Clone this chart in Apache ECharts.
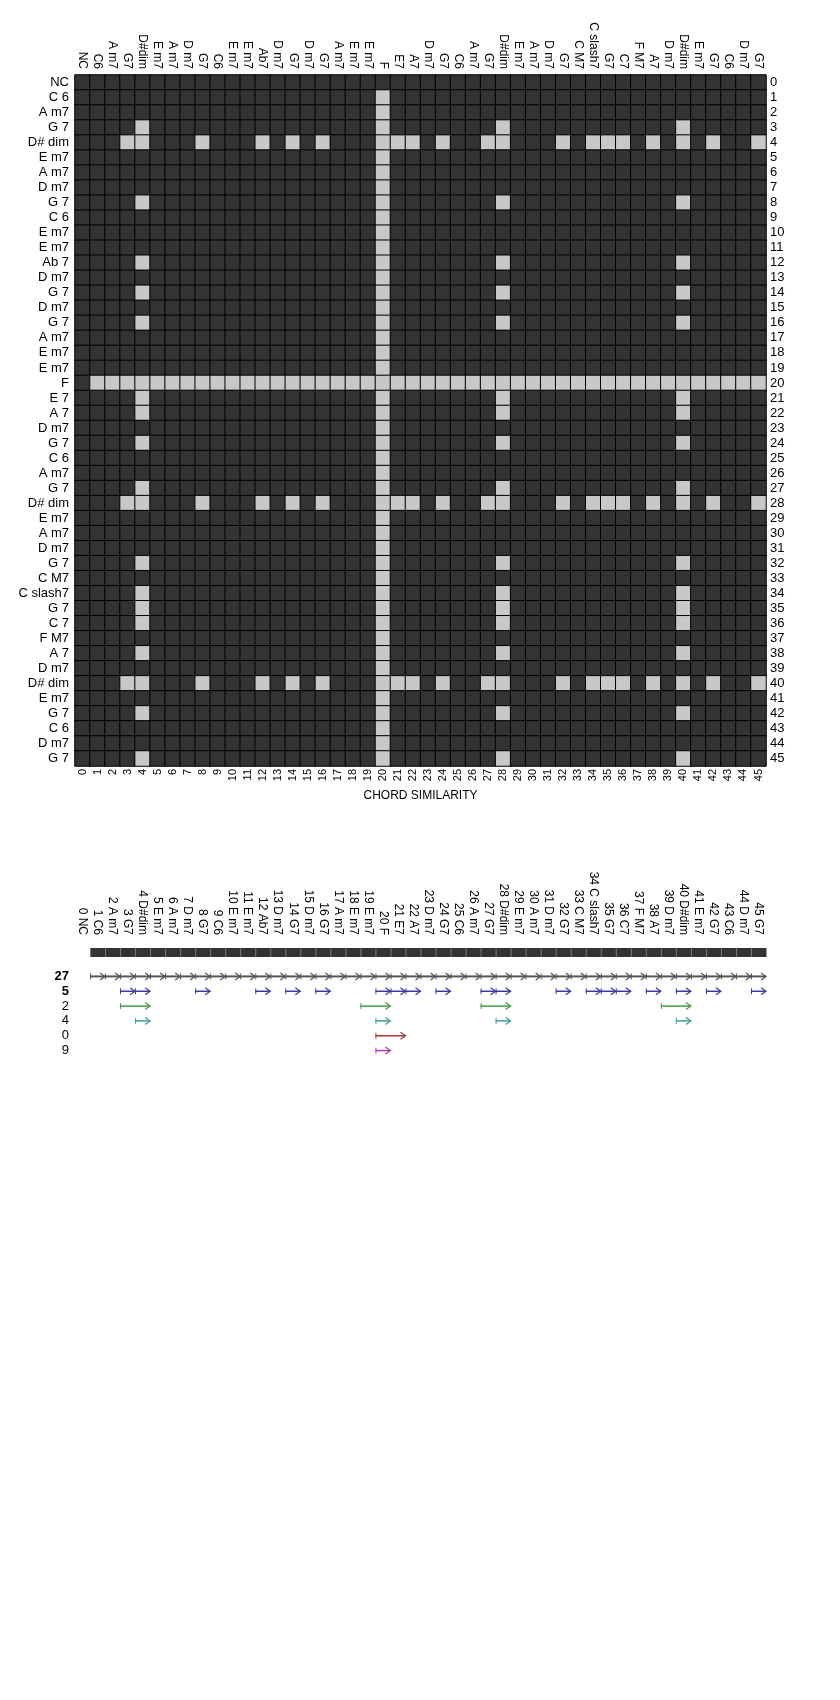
<!DOCTYPE html>
<html><head><meta charset="utf-8">
<script src="https://cdn.jsdelivr.net/npm/echarts@6/dist/echarts.min.js"></script>
<style>html,body{margin:0;padding:0;background:#fff}#c{width:840px;height:1700px}</style>
</head><body><div id="c"></div>
<script>
// ---- Data ----
const rowLabels = ['NC','C 6','A m7','G 7','D# dim','E m7','A m7','D m7','G 7','C 6','E m7','E m7','Ab 7','D m7','G 7','D m7','G 7','A m7','E m7','E m7','F','E 7','A 7','D m7','G 7','C 6','A m7','G 7','D# dim','E m7','A m7','D m7','G 7','C M7','C slash7','G 7','C 7','F M7','A 7','D m7','D# dim','E m7','G 7','C 6','D m7','G 7'];
const colLabels = ['NC','C6','A m7','G7','D#dim','E m7','A m7','D m7','G7','C6','E m7','E m7','Ab7','D m7','G7','D m7','G7','A m7','E m7','E m7','F','E7','A7','D m7','G7','C6','A m7','G7','D#dim','E m7','A m7','D m7','G7','C M7','C slash7','G7','C7','F M7','A7','D m7','D#dim','E m7','G7','C6','D m7','G7'];
const indexLabels = ['0','1','2','3','4','5','6','7','8','9','10','11','12','13','14','15','16','17','18','19','20','21','22','23','24','25','26','27','28','29','30','31','32','33','34','35','36','37','38','39','40','41','42','43','44','45'];
// light (similar) cells per row of the similarity matrix
const litCols = [
  [],
  [20],
  [20],
  [4,20,28,40],
  [3,4,8,12,14,16,20,21,22,24,27,28,32,34,35,36,38,40,42,45],
  [20],
  [20],
  [20],
  [4,20,28,40],
  [20],
  [20],
  [20],
  [4,20,28,40],
  [20],
  [4,20,28,40],
  [20],
  [4,20,28,40],
  [20],
  [20],
  [20],
  [1,2,3,4,5,6,7,8,9,10,11,12,13,14,15,16,17,18,19,20,21,22,23,24,25,26,27,28,29,30,31,32,33,34,35,36,37,38,39,40,41,42,43,44,45],
  [4,20,28,40],
  [4,20,28,40],
  [20],
  [4,20,28,40],
  [20],
  [20],
  [4,20,28,40],
  [3,4,8,12,14,16,20,21,22,24,27,28,32,34,35,36,38,40,42,45],
  [20],
  [20],
  [20],
  [4,20,28,40],
  [20],
  [4,20,28,40],
  [4,20,28,40],
  [4,20,28,40],
  [20],
  [4,20,28,40],
  [20],
  [3,4,8,12,14,16,20,21,22,24,27,28,32,34,35,36,38,40,42,45],
  [20],
  [4,20,28,40],
  [20],
  [20],
  [4,20,28,40]
];
// segment bar columns
const barCols = [1,2,3,4,5,6,7,8,9,10,11,12,13,14,15,16,17,18,19,20,21,22,23,24,25,26,27,28,29,30,31,32,33,34,35,36,37,38,39,40,41,42,43,44,45];
// arrow rows: [startCol, endCol]
const arcLabels = ['27','5','2','4','0','9'];
const arcs27 = [[1,1],[2,2],[3,3],[4,4],[5,5],[6,6],[7,7],[8,8],[9,9],[10,10],[11,11],[12,12],[13,13],[14,14],[15,15],[16,16],[17,17],[18,18],[19,19],[20,20],[21,21],[22,22],[23,23],[24,24],[25,25],[26,26],[27,27],[28,28],[29,29],[30,30],[31,31],[32,32],[33,33],[34,34],[35,35],[36,36],[37,37],[38,38],[39,39],[40,40],[41,41],[42,42],[43,43],[44,44],[45,45]];
const arcs5 = [[3,3],[4,4],[8,8],[12,12],[14,14],[16,16],[20,20],[21,21],[22,22],[24,24],[27,27],[28,28],[32,32],[34,34],[35,35],[36,36],[38,38],[40,40],[42,42],[45,45]];
const arcs2 = [[3,4],[19,20],[27,28],[39,40]];
const arcs4 = [[4,4],[20,20],[28,28],[40,40]];
const arcs0 = [[20,21]];
const arcs9 = [[20,20]];

// ---- Build ----
const heatData = [];
for (let i = 0; i < rowLabels.length; i++) {
  for (let j = 0; j < colLabels.length; j++) {
    heatData.push([j, i, litCols[i].indexOf(j) >= 0 ? 1 : 0]);
  }
}
const FONT = "'Liberation Sans', Arial, sans-serif";
const L = 75, W = 691;

function arrowSeries(list, row, color, lw) {
  return {
    type: 'custom', xAxisIndex: 3, yAxisIndex: 4,
    data: list.map(p => [p[0], p[1], row]),
    encode: { x: [0, 1], y: 2 },
    renderItem: function (params, api) {
      const a = api.coord([api.value(0), api.value(2)]);
      const b = api.coord([api.value(1), api.value(2)]);
      const bw = api.size([1, 0])[0];
      const x0 = a[0] - bw / 2, x1 = b[0] + bw / 2, y = a[1];
      const st = { stroke: color, lineWidth: lw, fill: null };
      return { type: 'group', children: [
        { type: 'line', shape: { x1: x0, y1: y, x2: x1, y2: y }, style: st },
        { type: 'line', shape: { x1: x0 + 0.5, y1: y - 3, x2: x0 + 0.5, y2: y + 3 }, style: { stroke: color, lineWidth: 1 } },
        { type: 'polyline', shape: { points: [[x1 - 5, y - 3.5], [x1, y], [x1 - 5, y + 3.5]] }, style: { stroke: color, lineWidth: 1.2, fill: null } }
      ]};
    }
  };
}

const chart = echarts.init(document.getElementById('c'), null, { renderer: 'canvas' });
const noLine = { show: false };
chart.setOption({
  backgroundColor: '#ffffff',
  animation: false,
  textStyle: { fontFamily: FONT },
  grid: [
    { left: L, top: 75, width: W, height: W },
    { left: L, top: 948, width: W, height: 9 },
    { left: L, top: 969, width: W, height: 89 }
  ],
  xAxis: [
    { type: 'category', gridIndex: 0, position: 'top', data: colLabels,
      axisLine: noLine, axisTick: noLine, splitLine: noLine,
      axisLabel: { interval: 0, rotate: 90, margin: 6, fontSize: 12, color: '#000', fontFamily: FONT } },
    { type: 'category', gridIndex: 0, position: 'bottom', data: indexLabels,
      axisLine: noLine, axisTick: noLine, splitLine: noLine,
      name: 'CHORD SIMILARITY', nameLocation: 'middle', nameGap: 24,
      nameTextStyle: { fontSize: 12, color: '#000', fontFamily: FONT },
      axisLabel: { interval: 0, rotate: 90, margin: 3, fontSize: 11, color: '#000', fontFamily: "'Liberation Sans Narrow', 'Liberation Sans', Arial, sans-serif" } },
    { type: 'category', gridIndex: 1, position: 'top', data: colLabels,
      axisLine: noLine, axisTick: noLine, splitLine: noLine,
      axisLabel: { interval: 0, rotate: 90, margin: 13, fontSize: 12, color: '#000', fontFamily: FONT,
        formatter: function (v, i) { return i + ' ' + v; } } },
    { type: 'category', gridIndex: 2, data: colLabels, show: false }
  ],
  yAxis: [
    { type: 'category', gridIndex: 0, inverse: true, data: rowLabels, position: 'left',
      axisLine: noLine, axisTick: noLine, splitLine: noLine,
      axisLabel: { interval: 0, margin: 6, fontSize: 13, color: '#000', fontFamily: FONT } },
    { type: 'category', gridIndex: 0, inverse: true, data: indexLabels, position: 'right',
      axisLine: noLine, axisTick: noLine, splitLine: noLine,
      axisLabel: { interval: 0, margin: 4, fontSize: 13, color: '#000', fontFamily: FONT } },
    { type: 'category', gridIndex: 1, data: ['bar'], show: false },
    { type: 'category', gridIndex: 2, data: arcLabels, show: false },
    { type: 'category', gridIndex: 2, inverse: true, data: arcLabels, position: 'left',
      axisLine: noLine, axisTick: noLine, splitLine: noLine,
      axisLabel: { interval: 0, margin: 6, fontSize: 13, color: '#000', fontFamily: FONT,
        formatter: function (v, i) { return i < 2 ? '{b|' + v + '}' : v; },
        rich: { b: { fontWeight: 'bold', fontSize: 13, fontFamily: FONT, color: '#000' } } } }
  ],
  visualMap: {
    type: 'piecewise', show: false, seriesIndex: 0, dimension: 2,
    pieces: [ { value: 0, color: '#333333' }, { value: 1, color: '#c8c8c8' } ]
  },
  series: [
    { type: 'heatmap', xAxisIndex: 0, yAxisIndex: 0, data: heatData,
      itemStyle: { borderColor: '#000', borderWidth: 1 }, emphasis: { disabled: true } },
    { type: 'custom', xAxisIndex: 2, yAxisIndex: 2,
      data: barCols.map(c => [c, 0]),
      renderItem: function (params, api) {
        const p = api.coord([api.value(0), 0]);
        const bw = api.size([1, 0])[0];
        const cs = params.coordSys;
        const x0 = p[0] - bw / 2;
        return { type: 'group', children: [
          { type: 'rect', shape: { x: x0, y: cs.y, width: bw + 0.5, height: cs.height }, style: { fill: '#333333' } },
          { type: 'line', shape: { x1: x0 + 0.5, y1: cs.y, x2: x0 + 0.5, y2: cs.y + cs.height }, style: { stroke: '#7a7a7a', lineWidth: 1 } }
        ]};
      } },
    arrowSeries(arcs27, 0, '#555555', 2),
    arrowSeries(arcs5, 1, '#3b3ba0', 1.5),
    arrowSeries(arcs2, 2, '#3f9e3f', 1.5),
    arrowSeries(arcs4, 3, '#3f9e9e', 1.5),
    arrowSeries(arcs0, 4, '#a03838', 1.5),
    arrowSeries(arcs9, 5, '#b03cb0', 1.5)
  ]
});
</script></body></html>
